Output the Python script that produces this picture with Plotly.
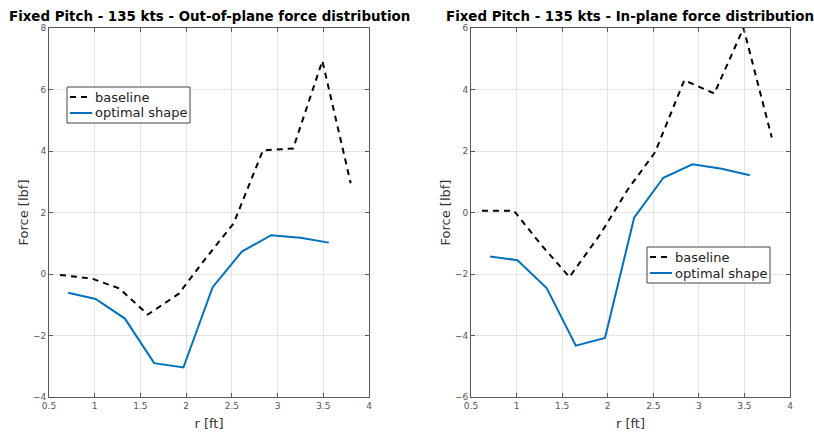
import plotly.graph_objects as go

# Radial stations [ft]
r_baseline = [0.62, 0.97, 1.27, 1.58, 1.92, 2.22, 2.52, 2.84, 3.17, 3.49, 3.80]
r_optimal = [0.71, 1.01, 1.33, 1.65, 1.97, 2.29, 2.61, 2.93, 3.25, 3.56]

# Out-of-plane force [lbf]
oop_baseline = [-0.03, -0.15, -0.47, -1.32, -0.64, 0.53, 1.65, 4.02, 4.08, 6.93, 2.95]
oop_optimal = [-0.61, -0.81, -1.45, -2.90, -3.04, -0.43, 0.73, 1.26, 1.18, 1.02]

# In-plane force [lbf]
ip_baseline = [0.06, 0.06, -1.05, -2.10, -0.70, 0.75, 1.96, 4.30, 3.87, 6.00, 2.44]
ip_optimal = [-1.43, -1.55, -2.46, -4.33, -4.08, -0.17, 1.13, 1.57, 1.42, 1.21]

titles = ["Fixed Pitch - 135 kts - Out-of-plane force distribution",
          "Fixed Pitch - 135 kts - In-plane force distribution"]
series_names = ["baseline", "optimal shape"]
x_ticks = [0.5, 1, 1.5, 2, 2.5, 3, 3.5, 4]
x_ticklabels = ["0.5", "1", "1.5", "2", "2.5", "3", "3.5", "4"]

W, H = 814, 435
FONT = "DejaVu Sans"
BLUE = "#0072BD"
AX = "#5a5a5a"
GRID = "#e4e4e4"
DASH = "6px,5px"

fig = go.Figure()

panels = [("x", "y", oop_baseline, oop_optimal), ("x2", "y2", ip_baseline, ip_optimal)]
for xa, ya, base, opt in panels:
    fig.add_trace(go.Scatter(x=r_baseline, y=base, mode="lines", name=series_names[0],
                             line=dict(color="black", width=2, dash=DASH),
                             xaxis=xa, yaxis=ya, showlegend=False))
    fig.add_trace(go.Scatter(x=r_optimal, y=opt, mode="lines", name=series_names[1],
                             line=dict(color=BLUE, width=2),
                             xaxis=xa, yaxis=ya, showlegend=False))


def xaxis(dom, anchor):
    return dict(domain=dom, range=[0.5, 4], tickvals=x_ticks, ticktext=x_ticklabels,
                anchor=anchor, automargin=False,
                ticks="inside", ticklen=4, tickcolor=AX, showline=True, linecolor=AX,
                linewidth=1, mirror="ticks", showgrid=True, gridcolor=GRID, zeroline=False,
                tickfont=dict(family=FONT, size=9, color="#555555"),
                title=dict(text="r [ft]", font=dict(family=FONT, size=13, color="#333333"),
                           standoff=9))


def yaxis(dom, rng, anchor):
    return dict(domain=dom, range=rng, dtick=2, anchor=anchor, automargin=False,
                ticks="inside", ticklen=4, tickcolor=AX, showline=True, linecolor=AX,
                linewidth=1, mirror="ticks", showgrid=True, gridcolor=GRID, zeroline=False,
                tickfont=dict(family=FONT, size=9, color="#555555"),
                title=dict(text="Force [lbf]", font=dict(family=FONT, size=13, color="#333333"),
                           standoff=1))


ydom = [1 - 397 / H, 1 - 28 / H]
fig.update_layout(
    width=W, height=H,
    margin=dict(l=0, r=0, t=0, b=0),
    paper_bgcolor="white", plot_bgcolor="white",
    xaxis=xaxis([49 / W, 369 / W], "y"),
    yaxis=yaxis(ydom, [-4, 8], "x"),
    xaxis2=xaxis([471 / W, 790 / W], "y2"),
    yaxis2=yaxis(ydom, [-6, 6], "x2"),
    showlegend=False,
)

for cx, text in zip([209, 630], titles):
    fig.add_annotation(x=cx / W, y=1 - 16 / H, xref="paper", yref="paper",
                       text="<b>" + text + "</b>", showarrow=False,
                       xanchor="center", yanchor="middle",
                       font=dict(family=FONT, size=13.4, color="black"))


def px(x):
    return x / W


def py(y):
    return 1 - y / H


# Boxed legends (left, top, right, bottom in pixels)
for (l, t, r, b) in [(67, 87, 190, 123), (647, 247, 770, 283)]:
    fig.add_shape(type="rect", xref="paper", yref="paper",
                  x0=px(l), x1=px(r), y0=py(b), y1=py(t),
                  line=dict(color="#444444", width=1), fillcolor="white", layer="above")
    rows = [(t + 10, dict(color="black", width=2, dash=DASH)),
            (t + 26, dict(color=BLUE, width=2))]
    for name, (ry, style) in zip(series_names, rows):
        fig.add_shape(type="line", xref="paper", yref="paper",
                      x0=px(l + 3), x1=px(l + 25), y0=py(ry), y1=py(ry),
                      line=style, layer="above")
        fig.add_annotation(x=px(l + 26), y=py(ry), xref="paper", yref="paper",
                           text=name, showarrow=False, xanchor="left", yanchor="middle",
                           font=dict(family=FONT, size=13, color="#222222"))

fig.write_html("out.html")
